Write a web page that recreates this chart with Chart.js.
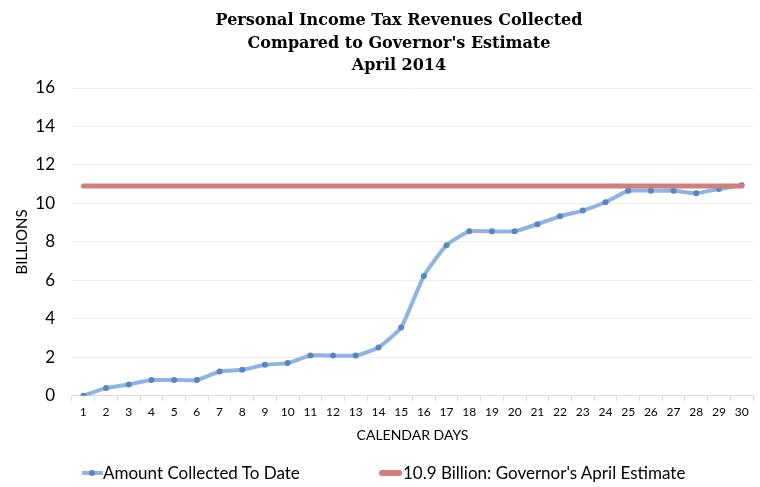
<!DOCTYPE html>
<html>
<head>
<meta charset="utf-8">
<script src="https://cdn.jsdelivr.net/npm/chart.js"></script>
<style>
  html, body { margin: 0; padding: 0; background: #fff; }
  #wrap { position: relative; width: 760px; height: 487px; }
  #title { position: absolute; left: 0; top: 9px; width: 798px; text-align: center;
           font-family: "DejaVu Serif", serif; font-weight: bold; font-size: 16px; line-height: 22.5px; color: #000; }
  #legend { position: absolute; left: 0; top: 462px; width: 760px; height: 24px;
            font-family: Lato, "Open Sans", sans-serif; font-size: 17px; color: #000; }
  .item { position: absolute; top: 0; display: flex; align-items: center; white-space: nowrap; }
  .sym { position: relative; display: inline-block; height: 14px; }
</style>
</head>
<body>
<div id="wrap">
  <canvas id="chart" width="760" height="487"></canvas>
  <div id="title"></div>
  <div id="legend"></div>
</div>
<script>
// Personal income tax collections, April 2014 (billions)
const days = ['1','2','3','4','5','6','7','8','9','10','11','12','13','14','15',
              '16','17','18','19','20','21','22','23','24','25','26','27','28','29','30'];
const collected = [0, 0.40, 0.59, 0.82, 0.82, 0.82, 1.26, 1.35, 1.61, 1.70,
                   2.09, 2.09, 2.09, 2.51, 3.55, 6.23, 7.83, 8.55, 8.55, 8.55,
                   8.92, 9.33, 9.63, 10.06, 10.66, 10.66, 10.66, 10.53, 10.75, 10.94];
const estimateValue = 10.9;
const estimate = days.map(() => estimateValue);
const yTicks = [0, 2, 4, 6, 8, 10, 12, 14, 16];
const titleLines = ['Personal Income Tax Revenues Collected', "Compared to Governor's Estimate", 'April 2014'];
const seriesNames = ['Amount Collected To Date', "10.9 Billion: Governor's April Estimate"];

const blueLine = '#8eb4e3';
const bluePoint = '#5a86bf';
const redLine = '#d07f7f';

document.getElementById('title').innerHTML = titleLines.join('<br>');

new Chart(document.getElementById('chart').getContext('2d'), {
    type: 'line',
    data: {
        labels: days,
        datasets: [{
            label: seriesNames[1],
            data: estimate,
            borderColor: redLine,
            borderWidth: 5,
            borderCapStyle: 'round',
            pointRadius: 0,
            order: 0
        }, {
            label: seriesNames[0],
            data: collected,
            borderColor: blueLine,
            borderWidth: 4,
            pointRadius: 3,
            pointBackgroundColor: bluePoint,
            pointBorderColor: bluePoint,
            pointBorderWidth: 0,
            tension: 0.15,
            order: 1
        }]
    },
    options: {
        responsive: false,
        animation: false,
        layout: { padding: { left: 0, right: 7, top: 88, bottom: 39 } },
        plugins: {
            legend: { display: false },
            tooltip: { enabled: false },
            title: { display: false }
        },
        scales: {
            x: {
                offset: true,
                grid: { display: true, drawOnChartArea: false, offset: true, tickLength: 5, color: '#d9d9d9' },
                border: { color: '#d9d9d9' },
                ticks: { color: '#000', font: { family: 'Lato, sans-serif', size: 12 }, maxRotation: 0, autoSkip: false, padding: 4 },
                title: { display: true, text: 'CALENDAR DAYS', color: '#000', font: { family: 'Lato, sans-serif', size: 14 }, padding: { top: 4 } }
            },
            y: {
                min: 0,
                max: 16,
                afterFit: (s) => { s.width = 72; },
                afterBuildTicks: (s) => { s.ticks = yTicks.map(v => ({ value: v })); },
                grid: { color: '#ececec', drawTicks: false },
                border: { display: false },
                ticks: { color: '#000', font: { family: 'Lato, sans-serif', size: 17 }, padding: 17 },
                title: { display: true, text: 'BILLIONS', color: '#000', font: { family: 'Lato, sans-serif', size: 15 }, padding: { top: 13, bottom: 0 } }
            }
        }
    }
});

// legend below the chart
const legend = document.getElementById('legend');
legend.innerHTML =
    '<div class="item" style="left:82px"><span class="sym" style="width:21px">' +
    '<span style="position:absolute;left:0;top:5px;width:21px;height:4px;background:' + blueLine + '"></span>' +
    '<span style="position:absolute;left:7px;top:4px;width:6px;height:6px;border-radius:3px;background:' + bluePoint + '"></span>' +
    '</span><span>' + seriesNames[0] + '</span></div>' +
    '<div class="item" style="left:379px"><span class="sym" style="width:24px">' +
    '<span style="position:absolute;left:0;top:4px;width:23px;height:6px;border-radius:3px;background:' + redLine + '"></span>' +
    '</span><span>' + seriesNames[1] + '</span></div>';
</script>
</body>
</html>
